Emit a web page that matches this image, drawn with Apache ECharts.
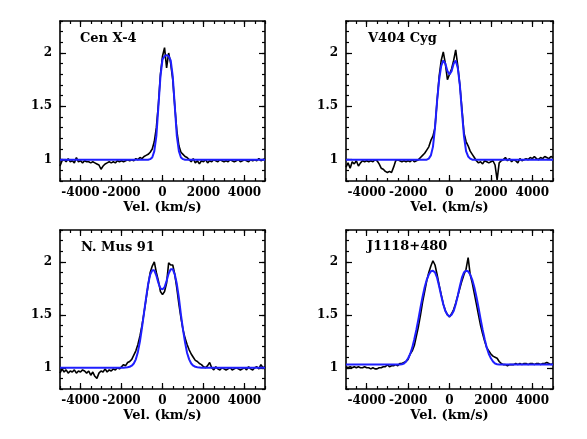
<!DOCTYPE html>
<html>
<head>
<meta charset="utf-8">
<script src="https://cdn.jsdelivr.net/npm/echarts@6/dist/echarts.min.js"></script>
<style>
  html, body { margin: 0; padding: 0; background: #fff; }
  #chart { width: 587px; height: 439px; }
</style>
</head>
<body>
<div id="chart"></div>
<script>
// velocity grid of the observed spectra (km/s)
const velocity = [
  -5000, -4900, -4800, -4700, -4600, -4500, -4400, -4300, -4200, -4100,
  -4000, -3900, -3800, -3700, -3600, -3500, -3400, -3300, -3200, -3100,
  -3000, -2900, -2800, -2700, -2600, -2500, -2400, -2300, -2200, -2100,
  -2000, -1900, -1800, -1700, -1600, -1500, -1400, -1300, -1200, -1100,
  -1000, -900, -800, -700, -600, -500, -400, -300, -200, -100,
  0, 100, 200, 300, 400, 500, 600, 700, 800, 900,
  1000, 1100, 1200, 1300, 1400, 1500, 1600, 1700, 1800, 1900,
  2000, 2100, 2200, 2300, 2400, 2500, 2600, 2700, 2800, 2900,
  3000, 3100, 3200, 3300, 3400, 3500, 3600, 3700, 3800, 3900,
  4000, 4100, 4200, 4300, 4400, 4500, 4600, 4700, 4800, 4900,
  5000
]

const panelNames = ['Cen X-4', 'V404 Cyg', 'N. Mus 91', 'J1118+480']

// observed (black) spectra, normalised flux
const cenObs = [
  0.94, 0.99, 1.00, 0.98, 1.01, 0.98, 0.99, 0.97, 1.02, 0.98,
  0.99, 0.97, 0.99, 0.98, 0.98, 0.97, 0.98, 0.97, 0.96, 0.95,
  0.91, 0.94, 0.96, 0.97, 0.98, 0.97, 0.98, 0.97, 0.99, 0.98,
  0.99, 0.98, 0.99, 1.00, 0.99, 1.00, 0.99, 1.01, 1.00, 1.02,
  1.01, 1.03, 1.04, 1.05, 1.07, 1.10, 1.17, 1.30, 1.52, 1.80,
  1.97, 2.05, 1.86, 2.00, 1.90, 1.75, 1.50, 1.27, 1.13, 1.07,
  1.05, 1.03, 1.02, 1.00, 0.98, 1.01, 0.97, 0.99, 0.96, 0.99,
  0.98, 1.00, 0.97, 0.99, 0.98, 1.00, 0.99, 0.98, 1.00, 0.99,
  0.98, 0.99, 0.98, 1.00, 0.99, 0.98, 0.99, 1.00, 0.98, 0.99,
  1.00, 0.99, 0.98, 1.00, 0.99, 1.00, 0.99, 1.01, 0.99, 1.00,
  1.01
]
const v404Obs = [
  0.93, 0.97, 0.92, 0.98, 0.96, 0.99, 0.94, 0.97, 0.99, 0.98,
  0.99, 0.98, 0.99, 0.98, 1.00, 0.99, 0.96, 0.92, 0.91, 0.89,
  0.88, 0.89, 0.88, 0.93, 0.99, 1.00, 0.99, 0.98, 0.99, 0.98,
  0.99, 0.98, 1.00, 0.98, 0.99, 1.00, 1.02, 1.04, 1.06, 1.09,
  1.12, 1.18, 1.22, 1.30, 1.55, 1.78, 1.93, 2.01, 1.90, 1.75,
  1.80, 1.85, 1.93, 2.03, 1.88, 1.70, 1.48, 1.25, 1.17, 1.13,
  1.08, 1.05, 1.02, 0.99, 0.97, 0.98, 0.96, 0.99, 0.98, 0.97,
  0.98, 0.99, 0.95, 0.81, 0.97, 0.99, 1.00, 1.02, 0.99, 1.01,
  0.98, 1.00, 0.99, 0.97, 1.01, 0.99, 1.00, 1.01, 1.00, 1.02,
  1.01, 1.03, 1.01, 1.00, 1.02, 1.01, 1.03, 1.02, 1.01, 1.03,
  1.02
]
const musObs = [
  0.95, 0.99, 0.96, 0.98, 0.95, 0.97, 0.96, 0.98, 0.95, 0.97,
  0.96, 0.98, 0.97, 0.95, 0.97, 0.93, 0.96, 0.92, 0.90, 0.95,
  0.97, 0.96, 0.99, 0.96, 0.98, 0.97, 0.99, 0.98, 1.00, 0.99,
  1.01, 1.03, 1.02, 1.05, 1.06, 1.08, 1.12, 1.16, 1.22, 1.30,
  1.40, 1.52, 1.65, 1.78, 1.90, 1.96, 2.00, 1.90, 1.82, 1.72,
  1.69, 1.72, 1.80, 1.99, 1.97, 1.97, 1.88, 1.75, 1.60, 1.47,
  1.36, 1.28, 1.22, 1.17, 1.13, 1.10, 1.07, 1.06, 1.04, 1.03,
  1.01, 1.00, 1.02, 1.05, 1.00, 0.98, 1.01, 0.99, 0.98, 1.00,
  0.99, 0.98, 0.99, 1.00, 0.98, 0.99, 1.00, 0.99, 0.98, 0.99,
  1.00, 0.98, 1.01, 0.99, 0.98, 1.00, 1.01, 0.99, 1.03, 1.00,
  1.01
]
const j1118Obs = [
  1.01, 1.00, 1.01, 1.00, 1.01, 1.00, 1.01, 1.00, 1.00, 1.01,
  1.00, 1.00, 0.99, 1.00, 0.99, 0.99, 1.00, 1.00, 1.01, 1.01,
  1.03, 1.01, 1.02, 1.02, 1.03, 1.02, 1.04, 1.04, 1.05, 1.06,
  1.08, 1.13, 1.16, 1.21, 1.30, 1.39, 1.50, 1.62, 1.72, 1.82,
  1.90, 1.96, 2.01, 1.97, 1.88, 1.78, 1.69, 1.60, 1.54, 1.50,
  1.48, 1.51, 1.55, 1.61, 1.68, 1.75, 1.82, 1.88, 1.93, 2.04,
  1.88, 1.80, 1.70, 1.60, 1.50, 1.40, 1.32, 1.25, 1.19, 1.16,
  1.13, 1.11, 1.10, 1.09, 1.06, 1.04, 1.03, 1.03, 1.02, 1.03,
  1.03, 1.03, 1.04, 1.03, 1.04, 1.03, 1.04, 1.04, 1.03, 1.04,
  1.04, 1.03, 1.04, 1.04, 1.03, 1.04, 1.04, 1.05, 1.04, 1.03,
  1.04
]

// model fits (blue)
const cenFitVel = [-5000, -700, -600, -500, -400, -300, -200, -100, 0, 100, 200, 300, 400, 500, 600, 700, 800, 900, 1000, 1100, 5000]
const cenFit = [1.0, 1.0, 1.005, 1.02, 1.08, 1.22, 1.5, 1.78, 1.94, 1.97, 1.98, 1.97, 1.93, 1.78, 1.5, 1.22, 1.08, 1.02, 1.005, 1.0, 1.0]

const v404FitVel = [-5000, -1100, -1000, -900, -800, -700, -600, -500, -400, -300, -200, -100, 0, 100, 200, 300, 400, 500, 600, 700, 800, 900, 1000, 1100, 5000]
const v404Fit = [1.0, 1.0, 1.01, 1.04, 1.12, 1.3, 1.55, 1.75, 1.88, 1.93, 1.9, 1.83, 1.8, 1.83, 1.9, 1.93, 1.86, 1.7, 1.45, 1.22, 1.08, 1.03, 1.01, 1.0, 1.0]

const musFitVel = [
  -5000, -1900, -1800, -1700, -1600, -1500, -1400, -1300, -1200, -1100,
  -1000, -900, -800, -700, -600, -500, -400, -300, -200, -100,
  0, 100, 200, 300, 400, 500, 600, 700, 800, 900,
  1000, 1100, 1200, 1300, 1400, 1500, 1600, 1700, 1800, 1900, 5000
]
const musFit = [
  1.0, 1.0, 1.003, 1.006, 1.01, 1.02, 1.04, 1.08, 1.15, 1.25,
  1.38, 1.52, 1.66, 1.79, 1.88, 1.92, 1.92, 1.87, 1.8, 1.75,
  1.74, 1.76, 1.82, 1.89, 1.93, 1.93, 1.88, 1.79, 1.66, 1.5,
  1.36, 1.24, 1.14, 1.08, 1.04, 1.02, 1.01, 1.006, 1.003, 1.0, 1.0
]

const j1118FitVel = [
  -5000, -2500, -2400, -2300, -2200, -2100, -2000, -1900, -1800, -1700, -1600,
  -1500, -1400, -1300, -1200, -1100, -1000, -900, -800, -700, -600,
  -500, -400, -300, -200, -100, 0, 100, 200, 300, 400,
  500, 600, 700, 800, 900, 1000, 1100, 1200, 1300, 1400,
  1500, 1600, 1700, 1800, 1900, 2000, 2100, 2200, 2300, 2400, 2500, 5000
]
const j1118Fit = [
  1.03, 1.03, 1.031, 1.034, 1.04, 1.06, 1.09, 1.13, 1.19, 1.27, 1.36,
  1.46, 1.57, 1.67, 1.76, 1.83, 1.88, 1.91, 1.915, 1.9, 1.85,
  1.77, 1.68, 1.6, 1.535, 1.5, 1.485, 1.5, 1.535, 1.6, 1.68,
  1.77, 1.85, 1.9, 1.915, 1.91, 1.88, 1.83, 1.76, 1.67, 1.57,
  1.46, 1.36, 1.27, 1.19, 1.13, 1.09, 1.06, 1.04, 1.034, 1.031, 1.03, 1.03
]

const xLabelValues = [-4000, -2000, 0, 2000, 4000]
const yLabelValues = [1, 1.5, 2]

const observed = [cenObs, v404Obs, musObs, j1118Obs]
const fits = [[cenFitVel, cenFit], [v404FitVel, v404Fit], [musFitVel, musFit], [j1118FitVel, j1118Fit]]

const FONT = 'DejaVu Serif'
const grids = [
  { left: 60, top: 21, width: 205, height: 160 },
  { left: 346, top: 21, width: 207, height: 160 },
  { left: 60, top: 230, width: 205, height: 159 },
  { left: 346, top: 230, width: 207, height: 159 }
]
const titlePos = [
  { left: 80, top: 32 },
  { left: 368, top: 32 },
  { left: 81, top: 241 },
  { left: 367, top: 240 }
]

const xAxes = []
const yAxes = []
const series = []

function pairs(xs, ys) {
  return xs.map((x, i) => [x, ys[i]])
}

const labelText = { color: '#000', fontSize: 13, fontWeight: 'bold', fontFamily: FONT }
const tickText = { color: '#000', fontSize: 12, fontWeight: 'bold', fontFamily: FONT }

grids.forEach((g, gi) => {
  const lineStyle = { color: '#000', width: 1.6 }
  // bottom / top : minor ticks + frame, then major ticks
  ;['bottom', 'top'].forEach(pos => {
    xAxes.push({
      type: 'value', gridIndex: gi, position: pos, min: -5000, max: 5000, interval: 500,
      axisLine: { onZero: false, lineStyle },
      axisTick: { inside: true, length: 3, lineStyle: { color: '#000', width: 1.2 } },
      axisLabel: pos === 'bottom'
        ? Object.assign({ customValues: xLabelValues, margin: 6, hideOverlap: false, formatter: v => String(v) }, tickText)
        : { show: false },
      splitLine: { show: false },
      name: pos === 'bottom' ? 'Vel. (km/s)' : '',
      nameLocation: 'middle', nameGap: 20,
      nameTextStyle: labelText
    })
    xAxes.push({
      type: 'value', gridIndex: gi, position: pos, min: -5000, max: 5000, interval: 500,
      axisLine: { show: false, onZero: false },
      axisTick: { inside: true, length: 6, customValues: xLabelValues, lineStyle: { color: '#000', width: 1.2 } },
      axisLabel: { show: false },
      splitLine: { show: false }
    })
  })
  ;['left', 'right'].forEach(pos => {
    yAxes.push({
      type: 'value', gridIndex: gi, position: pos, min: 0.8, max: 2.3, interval: 0.1,
      axisLine: { onZero: false, lineStyle },
      axisTick: { inside: true, length: 3, lineStyle: { color: '#000', width: 1.2 } },
      axisLabel: pos === 'left'
        ? Object.assign({ customValues: yLabelValues, margin: 8, hideOverlap: false, formatter: v => String(v) }, tickText)
        : { show: false },
      splitLine: { show: false }
    })
    yAxes.push({
      type: 'value', gridIndex: gi, position: pos, min: 0.8, max: 2.3, interval: 0.1,
      axisLine: { show: false, onZero: false },
      axisTick: { inside: true, length: 6, customValues: yLabelValues, lineStyle: { color: '#000', width: 1.2 } },
      axisLabel: { show: false },
      splitLine: { show: false }
    })
  })

  series.push({
    type: 'line', xAxisIndex: gi * 4, yAxisIndex: gi * 4,
    data: pairs(velocity, observed[gi]),
    showSymbol: false, clip: true,
    lineStyle: { color: '#000', width: 1.6 },
    z: 2
  })
  series.push({
    type: 'line', xAxisIndex: gi * 4, yAxisIndex: gi * 4,
    data: pairs(fits[gi][0], fits[gi][1]),
    showSymbol: false, clip: true,
    lineStyle: { color: '#1f1fff', width: 2 },
    z: 3
  })
})

const chart = echarts.init(document.getElementById('chart'))
chart.setOption({
  animation: false,
  backgroundColor: '#fff',
  title: panelNames.map((name, i) => ({
    text: name, left: titlePos[i].left, top: titlePos[i].top, padding: 0,
    textStyle: labelText
  })),
  grid: grids,
  xAxis: xAxes,
  yAxis: yAxes,
  series
})
</script>
</body>
</html>
